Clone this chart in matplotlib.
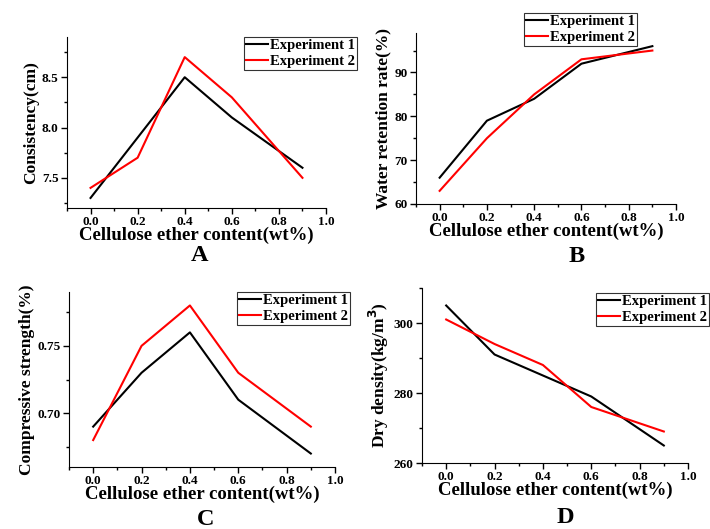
import numpy as np
import matplotlib
matplotlib.use("Agg")
import matplotlib.pyplot as plt
from matplotlib.ticker import MultipleLocator

plt.rcParams["font.family"] = "Liberation Serif"
plt.rcParams["font.weight"] = "bold"

# cellulose ether content (wt%)
content = [0.0, 0.2, 0.4, 0.6, 0.9]

consist_1 = [7.3, 7.9, 8.5, 8.1, 7.6]
consist_2 = [7.4, 7.7, 8.7, 8.3, 7.5]

water_1 = [66, 79, 84, 92, 96]
water_2 = [63, 75, 85, 93, 95]

comp_1 = [0.69, 0.73, 0.76, 0.71, 0.67]
comp_2 = [0.68, 0.75, 0.78, 0.73, 0.69]

dens_1 = [305, 291, 285, 279, 265]
dens_2 = [301, 294, 288, 276, 269]

W, H = 710, 529
fig = plt.figure(figsize=(W/100, H/100), dpi=100)

def box(l, r, t, b):
    return [l/W, 1-b/H, (r-l)/W, (b-t)/H]

panels = [
    # axes box, y data, ylim, major, minor, ylabel, letter + baseline pos, legend anchor (px)
    (box(67, 326, 37, 208), consist_1, consist_2, (7.2, 8.9), 0.5, 0.25,
     "Consistency(cm)", "A", (200, 261), (357, 37)),
    (box(416, 676, 33, 204), water_1, water_2, (60, 99), 10, 5,
     "Water retention rate(%)", "B", (577, 262), (637, 13)),
    (box(69, 335, 292, 467), comp_1, comp_2, (0.66, 0.79), 0.05, 0.025,
     "Compressive strength(%)", "C", (206, 525), (350, 292)),
    (box(422, 688, 288, 463), dens_1, dens_2, (260, 310), 20, 10,
     "Dry density(kg/m$^\\mathbf{3}$)", "D", (565, 523), (709, 293)),
]

for rect, y1, y2, ylim, maj, mnr, ylab, letter, lpos, anc in panels:
    ax = fig.add_axes(rect)
    ax.plot(content, y1, color="black", lw=1.5, label="Experiment 1")
    ax.plot(content, y2, color="red", lw=1.5, label="Experiment 2")
    ax.set_xlim(-0.1, 1.0)
    ax.set_ylim(*ylim)
    ax.xaxis.set_major_locator(MultipleLocator(0.2))
    ax.xaxis.set_minor_locator(MultipleLocator(0.1))
    ax.yaxis.set_major_locator(MultipleLocator(maj))
    ax.yaxis.set_minor_locator(MultipleLocator(mnr))
    ax.spines["top"].set_visible(False)
    ax.spines["right"].set_visible(False)
    ax.tick_params(which="major", length=4, width=1, labelsize=9.5, pad=2)
    ax.tick_params(which="minor", length=2.5, width=1)
    for t in ax.get_xticklabels() + ax.get_yticklabels():
        t.set_fontweight("bold")
    ax.set_xlabel("Cellulose ether content(wt%)", fontsize=13.5, fontweight="bold", labelpad=-1)
    ax.set_ylabel(ylab, fontsize=12.5, fontweight="bold", labelpad=2)
    fig.text(lpos[0]/W, 1-lpos[1]/H, letter, ha="center", va="baseline",
             fontsize=17.5, fontweight="bold")
    leg = ax.legend(loc="upper right", bbox_to_anchor=(anc[0]/W, 1-anc[1]/H),
                    bbox_transform=fig.transFigure, frameon=True, fancybox=False,
                    edgecolor="black", handlelength=1.5, handletextpad=0.15,
                    borderpad=0.15, labelspacing=0.15, borderaxespad=0,
                    prop={"weight": "bold", "size": 10.5})
    leg.get_frame().set_linewidth(0.8)

fig.savefig("out.png", dpi=100)
